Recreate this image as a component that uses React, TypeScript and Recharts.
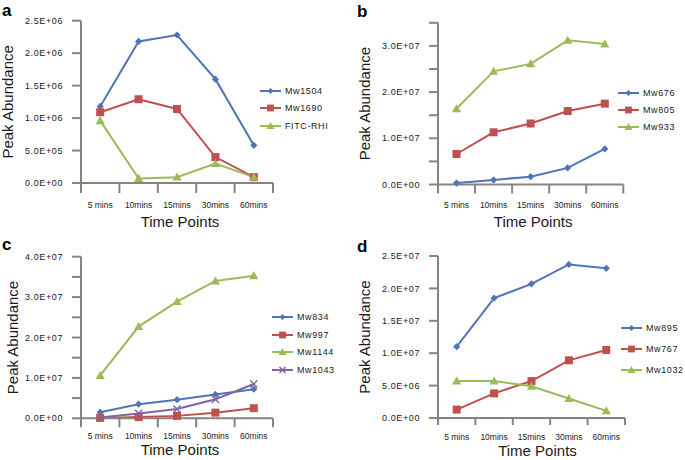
import React from 'react';
import { LineChart, Line, XAxis, YAxis, Legend } from 'recharts';

const FONT = '"Liberation Sans", Arial, Helvetica, sans-serif';
const AXIS = '#8a837c';
const TEXT = '#1a1a1a';
const BLUE = '#4f74b8';
const RED = '#c0504d';
const GREEN = '#9bbb59';
const PURPLE = '#8064a2';

const categories = ['5 mins', '10mins', '15mins', '30mins', '60mins'];
const xTicks = [0, 0.5, 1, 1.5, 2, 2.5, 3, 3.5, 4, 4.5, 5];

// Panel a
const aMw1504 = [1.18e6, 2.18e6, 2.28e6, 1.6e6, 0.58e6];
const aMw1690 = [1.09e6, 1.29e6, 1.14e6, 0.4e6, 0.09e6];
const aFITC = [0.96e6, 0.07e6, 0.09e6, 0.3e6, 0.09e6];
const aTicks = [0, 5e5, 1e6, 1.5e6, 2e6, 2.5e6];
const aLabeled = [0, 5e5, 1e6, 1.5e6, 2e6, 2.5e6];

// Panel b
const bMw676 = [0.3e6, 1.0e6, 1.7e6, 3.6e6, 7.7e6];
const bMw805 = [6.6e6, 11.3e6, 13.2e6, 15.9e6, 17.5e6];
const bMw933 = [16.4e6, 24.5e6, 26.1e6, 31.2e6, 30.4e6];
const bTicks = [0, 5e6, 1e7, 1.5e7, 2e7, 2.5e7, 3e7, 3.5e7];
const bLabeled = [0, 1e7, 2e7, 3e7];

// Panel c
const cMw834 = [1.5e6, 3.5e6, 4.6e6, 5.9e6, 7.2e6];
const cMw997 = [0.1e6, 0.3e6, 0.6e6, 1.4e6, 2.5e6];
const cMw1144 = [10.6e6, 22.7e6, 28.9e6, 34.0e6, 35.3e6];
const cMw1043 = [0.2e6, 1.2e6, 2.3e6, 4.7e6, 8.5e6];
const cTicks = [0, 5e6, 1e7, 1.5e7, 2e7, 2.5e7, 3e7, 3.5e7, 4e7];
const cLabeled = [0, 1e7, 2e7, 3e7, 4e7];

// Panel d
const dMw895 = [11.0e6, 18.5e6, 20.7e6, 23.7e6, 23.1e6];
const dMw767 = [1.3e6, 3.8e6, 5.7e6, 8.9e6, 10.5e6];
const dMw1032 = [5.7e6, 5.7e6, 4.9e6, 3.0e6, 1.1e6];
const dTicks = [0, 5e6, 1e7, 1.5e7, 2e7, 2.5e7];
const dLabeled = [0, 5e6, 1e7, 1.5e7, 2e7, 2.5e7];

type Shape = 'diamond' | 'square' | 'triangle' | 'x';
type Series = { name: string; values: number[]; color: string; shape: Shape };

function fmtE(v: number): string {
  const [m, e] = v.toExponential(1).split('e');
  const n = parseInt(e, 10);
  return `${m}E${n < 0 ? '-' : '+'}${String(Math.abs(n)).padStart(2, '0')}`;
}

const plotSize: Record<Shape, number> = { diamond: 3.6, square: 4, triangle: 4.6, x: 3.6 };
const legendSize: Record<Shape, number> = { diamond: 3, square: 3.4, triangle: 4, x: 3 };

function Marker({ shape, cx, cy, color, s }: { shape: Shape; cx: number; cy: number; color: string; s: number }) {
  if (cx == null || cy == null) return <g />;
  switch (shape) {
    case 'diamond':
      return <polygon points={`${cx},${cy - s} ${cx + s},${cy} ${cx},${cy + s} ${cx - s},${cy}`} fill={color} />;
    case 'square':
      return <rect x={cx - s} y={cy - s} width={2 * s} height={2 * s} fill={color} />;
    case 'triangle':
      return <polygon points={`${cx},${cy - s} ${cx + s},${cy + s * 0.75} ${cx - s},${cy + s * 0.75}`} fill={color} />;
    default:
      return (
        <g stroke={color} strokeWidth={1.4}>
          <line x1={cx - s} y1={cy - s} x2={cx + s} y2={cy + s} />
          <line x1={cx - s} y1={cy + s} x2={cx + s} y2={cy - s} />
        </g>
      );
  }
}

type Panel = {
  letter: string;
  left: number;
  top: number;
  plot: { l: number; r: number; t: number; b: number };
  ticks: number[];
  labeled: number[];
  domain: [number, number];
  series: Series[];
  legend: { x: number; y: number; row: number };
  yTitleX: number;
  xLabelBase: number;
  xTickLen: number;
  xTitleOffset: number;
  xTitleDx: number;
};

const W = 342;
const H = 230;

const panels: Panel[] = [
  {
    letter: 'a', left: 0, top: 0,
    plot: { l: 81, r: 273, t: 20.7, b: 183 },
    ticks: aTicks, labeled: aLabeled, domain: [0, 2.5e6],
    series: [
      { name: 'Mw1504', values: aMw1504, color: BLUE, shape: 'diamond' },
      { name: 'Mw1690', values: aMw1690, color: RED, shape: 'square' },
      { name: 'FITC-RHI', values: aFITC, color: GREEN, shape: 'triangle' },
    ],
    legend: { x: 260, y: 82, row: 17.5 },
    yTitleX: 7.5, xLabelBase: 24.5, xTickLen: 10, xTitleOffset: 3, xTitleDx: 3,
  },
  {
    letter: 'b', left: 342, top: 0,
    plot: { l: 96, r: 281.3, t: 22.8, b: 184.5 },
    ticks: bTicks, labeled: bLabeled, domain: [0, 3.5e7],
    series: [
      { name: 'Mw676', values: bMw676, color: BLUE, shape: 'diamond' },
      { name: 'Mw805', values: bMw805, color: RED, shape: 'square' },
      { name: 'Mw933', values: bMw933, color: GREEN, shape: 'triangle' },
    ],
    legend: { x: 276, y: 85, row: 16.7 },
    yTitleX: 23, xLabelBase: 23.5, xTickLen: 9, xTitleOffset: 3, xTitleDx: 2.5,
  },
  {
    letter: 'c', left: 0, top: 230,
    plot: { l: 81, r: 273, t: 26.7, b: 188.3 },
    ticks: cTicks, labeled: cLabeled, domain: [0, 4e7],
    series: [
      { name: 'Mw834', values: cMw834, color: BLUE, shape: 'diamond' },
      { name: 'Mw997', values: cMw997, color: RED, shape: 'square' },
      { name: 'Mw1144', values: cMw1144, color: GREEN, shape: 'triangle' },
      { name: 'Mw1043', values: cMw1043, color: PURPLE, shape: 'x' },
    ],
    legend: { x: 272, y: 78.5, row: 17.6 },
    yTitleX: 12.5, xLabelBase: 20.5, xTickLen: 9, xTitleOffset: 5, xTitleDx: 3,
  },
  {
    letter: 'd', left: 342, top: 230,
    plot: { l: 96, r: 283, t: 26, b: 188 },
    ticks: dTicks, labeled: dLabeled, domain: [0, 2.5e7],
    series: [
      { name: 'Mw895', values: dMw895, color: BLUE, shape: 'diamond' },
      { name: 'Mw767', values: dMw767, color: RED, shape: 'square' },
      { name: 'Mw1032', values: dMw1032, color: GREEN, shape: 'triangle' },
    ],
    legend: { x: 279, y: 88, row: 20.9 },
    yTitleX: 23, xLabelBase: 21.5, xTickLen: 7, xTitleOffset: 4, xTitleDx: 6,
  },
];

function XTick(props: any) {
  const { x, y, payload, base, len } = props;
  const v = payload.value as number;
  if (Number.isInteger(v)) {
    return <line x1={x} x2={x} y1={y} y2={y + len} stroke={AXIS} strokeWidth={2} />;
  }
  return (
    <text x={x} y={y + base} textAnchor="middle" fontSize={8.5} fill={TEXT} fontFamily={FONT}>
      {categories[Math.floor(v)]}
    </text>
  );
}

function YTick(props: any) {
  const { x, y, payload, labeled } = props;
  const v = payload.value as number;
  if (!labeled.includes(v)) return <g />;
  return (
    <text x={x} y={y} dy="0.35em" textAnchor="end" fontSize={9} letterSpacing={0.6} fill={TEXT} fontFamily={FONT}>
      {fmtE(v)}
    </text>
  );
}

function LegendBox({ series, row }: { series: Series[]; row: number }) {
  return (
    <div style={{ fontFamily: FONT }}>
      {series.map((s) => (
        <div key={s.name} style={{ display: 'flex', alignItems: 'center', height: row }}>
          <svg width={21} height={12} style={{ display: 'block' }}>
            <line x1={0} x2={21} y1={6} y2={6} stroke={s.color} strokeWidth={2} />
            <Marker shape={s.shape} cx={10.5} cy={6} color={s.color} s={legendSize[s.shape]} />
          </svg>
          <span style={{ marginLeft: 4, fontSize: 9, letterSpacing: 0.6, color: TEXT, whiteSpace: 'nowrap', lineHeight: '12px' }}>
            {s.name}
          </span>
        </div>
      ))}
    </div>
  );
}

function PanelChart({ p }: { p: Panel }) {
  const data = categories.map((c, i) => {
    const row: Record<string, number | string> = { t: i + 0.5, label: c };
    p.series.forEach((s) => {
      row[s.name] = s.values[i];
    });
    return row;
  });
  return (
    <div style={{ position: 'absolute', left: p.left, top: p.top, width: W, height: H }}>
      <LineChart
        width={W}
        height={H}
        data={data}
        margin={{ top: p.plot.t, right: W - p.plot.r, left: 0, bottom: 0 }}
      >
        <XAxis
          type="number"
          dataKey="t"
          domain={[0, 5]}
          ticks={xTicks}
          interval={0}
          height={H - p.plot.b}
          tickSize={0}
          tickMargin={0}
          tickLine={false}
          axisLine={{ stroke: AXIS, strokeWidth: 2 }}
          tick={(tp: any) => <XTick {...tp} base={p.xLabelBase} len={p.xTickLen} />}
          label={{
            value: 'Time Points',
            position: 'insideBottom',
            offset: p.xTitleOffset,
            dx: p.xTitleDx,
            fontSize: 15,
            fill: TEXT,
            fontFamily: FONT,
          }}
        />
        <YAxis
          type="number"
          domain={p.domain}
          ticks={p.ticks}
          interval={0}
          width={p.plot.l}
          tickSize={9}
          tickMargin={9}
          axisLine={{ stroke: AXIS, strokeWidth: 2 }}
          tickLine={{ stroke: AXIS, strokeWidth: 2 }}
          tick={(tp: any) => <YTick {...tp} labeled={p.labeled} />}
          label={{
            value: 'Peak Abundance',
            angle: -90,
            position: 'insideLeft',
            offset: p.yTitleX,
            fontSize: 15,
            fill: TEXT,
            fontFamily: FONT,
            style: { textAnchor: 'middle' },
          }}
        />
        {p.series.map((s) => (
          <Line
            key={s.name}
            type="linear"
            dataKey={s.name}
            name={s.name}
            stroke={s.color}
            strokeWidth={2}
            isAnimationActive={false}
            activeDot={false}
            dot={(dp: any) => (
              <Marker key={`${s.name}-${dp.index}`} shape={s.shape} cx={dp.cx} cy={dp.cy} color={s.color} s={plotSize[s.shape]} />
            )}
          />
        ))}
        <Legend
          layout="vertical"
          align="center"
          verticalAlign="middle"
          wrapperStyle={{ left: p.legend.x, top: p.legend.y, width: 'auto', height: 'auto' }}
          content={() => <LegendBox series={p.series} row={p.legend.row} />}
        />
      </LineChart>
    </div>
  );
}

const letterPos = [
  { x: 2, y: 15.5 },
  { x: 357, y: 17 },
  { x: 2, y: 250 },
  { x: 357, y: 252 },
];

export default function App() {
  return (
    <div style={{ position: 'absolute', left: 0, top: 0, width: 685, height: 460, background: '#fff', overflow: 'hidden' }}>
      {panels.map((p) => (
        <PanelChart key={p.letter} p={p} />
      ))}
      <svg width={685} height={460} style={{ position: 'absolute', left: 0, top: 0, pointerEvents: 'none' }}>
        {panels.map((p, i) => (
          <text key={p.letter} x={letterPos[i].x} y={letterPos[i].y} fontSize={17} fontWeight="bold" fill="#000" fontFamily={FONT}>
            {p.letter}
          </text>
        ))}
      </svg>
    </div>
  );
}
